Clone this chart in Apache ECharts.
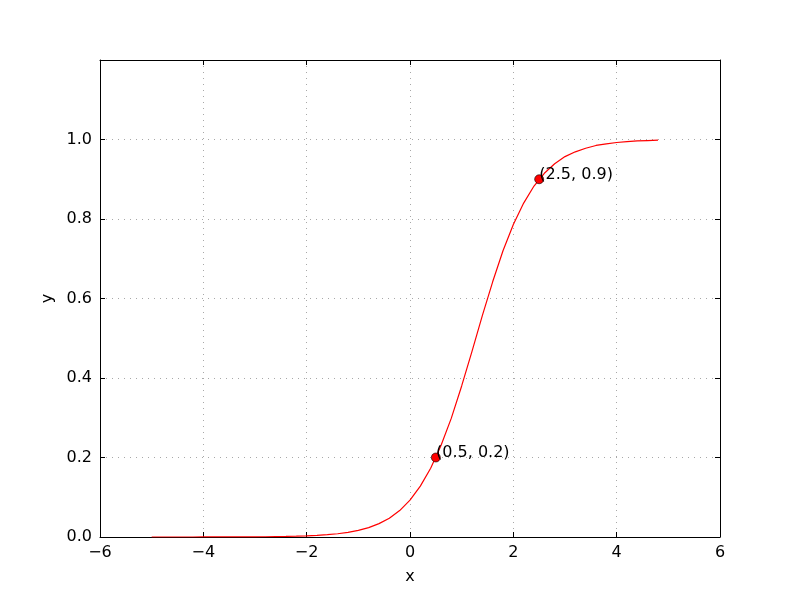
<!DOCTYPE html>
<html>
<head>
<meta charset="utf-8">
<script src="https://cdn.jsdelivr.net/npm/echarts@6/dist/echarts.min.js"></script>
<style>html,body{margin:0;padding:0;background:#fff}#c{width:800px;height:597px}</style>
</head>
<body>
<div id="c"></div>
<script>
// Curve samples
const curveX = [-5.0,-4.8,-4.6,-4.4,-4.2,-4.0,-3.8,-3.6,-3.4,-3.2,-3.0,-2.8,-2.6,-2.4,-2.2,-2.0,-1.8,-1.6,-1.4,-1.2,-1.0,-0.8,-0.6,-0.4,-0.2,0.0,0.2,0.4,0.6,0.8,1.0,1.2,1.4,1.6,1.8,2.0,2.2,2.4,2.6,2.8,3.0,3.2,3.4,3.6,3.8,4.0,4.2,4.4,4.6,4.8];
const curveY = [0.00001,0.00002,0.00003,0.00004,0.00005,0.00008,0.00011,0.00016,0.00023,0.00033,0.00047,0.00067,0.00097,0.0014,0.0020,0.0028,0.0040,0.0058,0.0082,0.0118,0.0168,0.0237,0.0336,0.0474,0.0665,0.0926,0.128,0.173,0.230,0.299,0.380,0.467,0.557,0.642,0.720,0.786,0.840,0.883,0.915,0.939,0.957,0.969,0.978,0.985,0.989,0.9925,0.9947,0.9963,0.9974,0.9982];
const pointX = [0.5, 2.5];
const pointY = [0.2, 0.9];
const pointLabels = ['(0.5, 0.2)', '(2.5, 0.9)'];
const xTicks = [-6,-4,-2,0,2,4,6];
const yTicks = [0.0,0.2,0.4,0.6,0.8,1.0];

const FONT = 'DejaVu Sans';
const chart = echarts.init(document.getElementById('c'), null, {renderer:'canvas'});
const gridLine = {show:true, lineStyle:{color:'#a8a8a8', width:1, type:[1,5]}};
const tickIn = {show:true, inside:true, length:5, lineStyle:{color:'#000', width:1}};
chart.setOption({
  animation:false,
  backgroundColor:'#fff',
  grid:{left:100, right:80, top:60, bottom:60, containLabel:false},
  xAxis:[{
    type:'value', min:-6, max:6, interval:2, position:'bottom',
    axisLine:{show:true, onZero:false, lineStyle:{color:'#000', width:1}},
    axisTick:tickIn,
    splitLine:gridLine,
    axisLabel:{color:'#000', fontFamily:FONT, fontSize:16, margin:8,
      formatter:v=>String(v).replace('-', '\u2212')},
    name:'x', nameLocation:'middle', nameGap:32,
    nameTextStyle:{color:'#000', fontFamily:FONT, fontSize:16}
  },{
    type:'value', min:-6, max:6, interval:2, position:'top',
    axisLine:{show:true, onZero:false, lineStyle:{color:'#000', width:1}},
    axisTick:tickIn, axisLabel:{show:false}, splitLine:{show:false}
  }],
  yAxis:[{
    type:'value', min:0, max:1.2, interval:0.2, position:'left',
    axisLine:{show:true, onZero:false, lineStyle:{color:'#000', width:1}},
    axisTick:tickIn,
    splitLine:gridLine,
    axisLabel:{color:'#000', fontFamily:FONT, fontSize:16, margin:8, showMaxLabel:false,
      formatter:v=>v.toFixed(1)},
    name:'y', nameLocation:'middle', nameGap:44, nameRotate:90,
    nameTextStyle:{color:'#000', fontFamily:FONT, fontSize:16}
  },{
    type:'value', min:0, max:1.2, interval:0.2, position:'right',
    axisLine:{show:true, onZero:false, lineStyle:{color:'#000', width:1}},
    axisTick:tickIn, axisLabel:{show:false}, splitLine:{show:false}
  }],
  series:[{
    type:'line',
    data:curveX.map((x,i)=>[x, curveY[i]]),
    showSymbol:false, symbol:'none',
    lineStyle:{color:'#ff0000', width:1.2},
    z:3
  },{
    type:'scatter',
    data:pointX.map((x,i)=>({value:[x, pointY[i]], label:{formatter:pointLabels[i]}})),
    symbol:'circle', symbolSize:9,
    itemStyle:{color:'#ff0000', borderColor:'#000', borderWidth:0.6, opacity:1},
    label:{show:true, position:[5,8], align:'left', verticalAlign:'bottom',
      color:'#000', fontFamily:FONT, fontSize:16, textBorderWidth:0},
    z:4
  }]
});
</script>
</body>
</html>
